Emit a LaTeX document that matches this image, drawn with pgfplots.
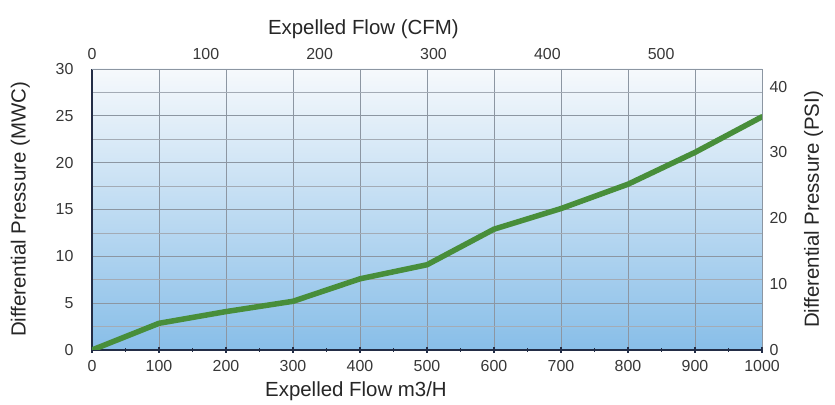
\documentclass[border=0pt]{standalone}
\usepackage{pgfplots}
\pgfplotsset{compat=1.18}
\usepackage{fontspec}
\setmainfont{Liberation Sans}
\definecolor{topc}{RGB}{246,249,252}
\definecolor{midc}{RGB}{196,223,242}
\definecolor{botc}{RGB}{136,190,232}
\definecolor{gridc}{RGB}{140,150,162}
\definecolor{axc}{RGB}{35,45,70}
\definecolor{linec}{RGB}{72,142,58}
\definecolor{tickc}{RGB}{55,55,55}
\begin{document}
\begin{tikzpicture}
\pgfplotsset{
  common/.style={
    width=670bp, height=281bp, scale only axis,
    /pgf/number format/assume math mode=true,
    /pgf/number format/1000 sep={},
    tick label style={font=\fontsize{16}{16}\selectfont, text=tickc},
    label style={font=\fontsize{20.5}{21}\selectfont, text=black!85},
  }
}
\begin{axis}[common,
  xmin=0, xmax=1000, ymin=0, ymax=30,
  axis x line*=bottom, axis y line*=left,
  xtick={0,100,...,1000}, ytick={0,5,...,30},
  minor xtick={50,150,...,950},
  minor ytick={2.5,7.5,...,27.5},
  xmajorgrids=true, ymajorgrids=true, yminorgrids=true, xminorgrids=false,
  grid style={gridc, line width=0.9bp},
  minor grid style={gridc!80, line width=0.8bp},
  axis line style={axc, line width=2bp, -},
  xtick style={axc, line width=1.2bp},
  minor x tick style={axc, line width=1.2bp},
  ytick style={draw=none},
  minor y tick style={draw=none},
  tick align=center,
  major tick length=6bp, minor tick length=4bp,
  xticklabel style={yshift=-4bp},
  yticklabel style={xshift=-12bp},
  xlabel={Expelled Flow m3/H},
  xlabel style={at={(rel axis cs:0.394,0)}, anchor=north, yshift=-28bp},
  ylabel={Differential Pressure (MWC)},
  ylabel style={yshift=19bp},
  axis background/.style={shade, top color=topc, middle color=midc, bottom color=botc},
]
\coordinate (O) at (rel axis cs:0,0);
\draw[gridc, line width=0.9bp] (rel axis cs:0,1) -- (rel axis cs:1,1) -- (rel axis cs:1,0);
\addplot[linec, line width=5.5bp, line join=round, line cap=round] coordinates {
(0,0) (100,2.85) (200,4.1) (300,5.2) (400,7.6) (500,9.1) (600,12.9) (700,15.1) (800,17.7) (900,21.1) (1000,24.9)
};
\end{axis}
\begin{axis}[common,
  xmin=0, xmax=588.58, ymin=0, ymax=30,
  axis x line*=top, axis y line=none,
  xtick={0,100,...,500},
  major tick length=0pt,
  axis line style={draw=none},
  xticklabel style={yshift=6bp},
  xlabel={Expelled Flow (CFM)},
  xlabel style={at={(rel axis cs:0.405,1)}, anchor=south, yshift=27bp},
]
\end{axis}
\begin{axis}[common,
  xmin=0, xmax=1000, ymin=0, ymax=42.67,
  axis y line*=right, axis x line=none,
  ytick={0,10,...,40},
  major tick length=0pt,
  axis line style={draw=none},
  yticklabel style={xshift=4bp},
  ylabel={Differential Pressure (PSI)},
  ylabel style={yshift=-10bp},
]
\end{axis}
\pgfresetboundingbox
\path (O) ++(-92bp,-55bp) rectangle ++(835bp,405bp);
\end{tikzpicture}
\end{document}
